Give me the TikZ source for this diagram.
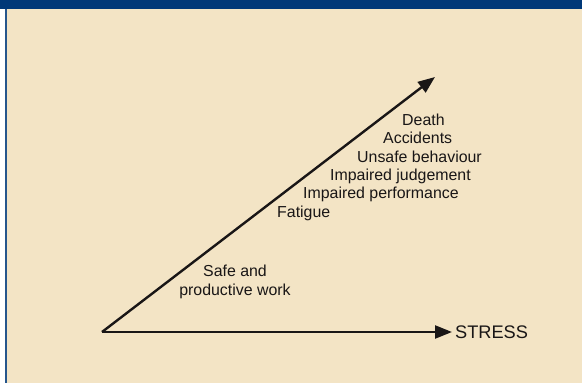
\documentclass[tikz,border=0pt]{standalone}
\usepackage{fontspec}
\setmainfont{Liberation Sans}
\usetikzlibrary{arrows.meta}

\definecolor{bandblue}{RGB}{0,56,120}
\definecolor{paper}{RGB}{243,228,197}
\definecolor{ink}{RGB}{25,22,22}

\tikzset{
  axis/.style={line width=2.4pt,ink,-{Triangle[length=17pt,width=13pt]}},
  effect/.style={anchor=west,inner sep=0pt,text=ink,font=\fontsize{15.9}{18.5}\selectfont},
}

\begin{document}
\begin{tikzpicture}[x=1pt,y=-1pt]
    \useasboundingbox (0,0) rectangle (582,383);

    % Fondo
    \fill[white] (0,0) rectangle (582,383);
    \fill[paper] (7,8) rectangle (582,383);
    \fill[bandblue] (0,0) rectangle (582,8.5);
    \fill[bandblue!85!white] (5,8.5) rectangle (7,383);

    % Ejes
    \coordinate (O) at (102,332);
    \coordinate (top) at (435,77);
    \coordinate (right) at (452,332);
    \draw[axis] (O) -- (top);
    \draw[axis] (O) -- (right);
    \node[anchor=west,inner sep=0pt,text=ink,font=\fontsize{18.2}{20}\selectfont] (stress) at (455,332) {STRESS};

    % Efectos
    \node[effect] (death) at (402,120) {Death};
    \node[effect] (accidents) at (383,138) {Accidents};
    \node[effect] (unsafe) at (357,157) {Unsafe behaviour};
    \node[effect] (judgement) at (330,176) {Impaired judgement};
    \node[effect] (performance) at (303,194) {Impaired performance};
    \node[effect] (fatigue) at (277,213) {Fatigue};
    \node[effect,anchor=center,align=center] (safe) at (235,282) {Safe and\\productive work};
\end{tikzpicture}
\end{document}
